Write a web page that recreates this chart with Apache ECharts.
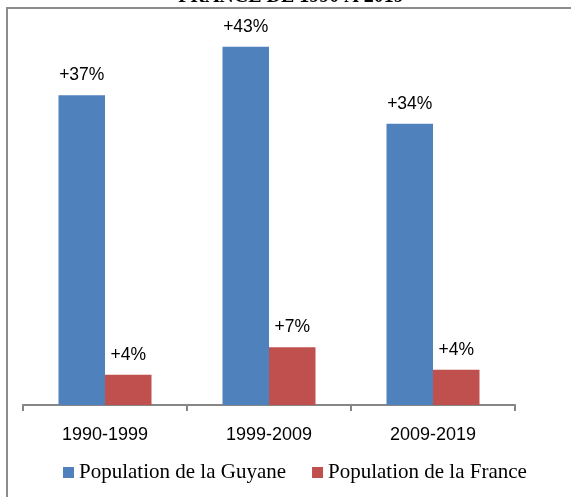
<!DOCTYPE html>
<html>
<head>
<meta charset="utf-8">
<script src="https://cdn.jsdelivr.net/npm/echarts@6/dist/echarts.min.js"></script>
<style>html,body{margin:0;padding:0;background:#fff;}#c{width:571px;height:497px;}</style>
</head>
<body>
<div id="c"></div>
<script>
var categories = ['1990-1999', '1999-2009', '2009-2019'];
var guyane = [37, 42.8, 33.6];
var france = [3.6, 6.9, 4.2];
var guyaneLabels = ['+37%', '+43%', '+34%'];
var franceLabels = ['+4%', '+7%', '+4%'];
var seriesNames = ['Population de la Guyane', 'Population de la France'];
var titleText = 'FRANCE DE 1990 A 2019';

var chart = echarts.init(document.getElementById('c'));
function lbl(arr) {
  return {
    show: true, position: 'top', distance: 11,
    fontFamily: 'Liberation Sans, Arial, sans-serif', fontSize: 17.5, color: '#000',
    formatter: function (p) { return arr[p.dataIndex]; }
  };
}
chart.setOption({
  animation: false,
  backgroundColor: '#fff',
  grid: { left: 23, right: 56, top: 28.3, bottom: 92 },
  graphic: [
    { type: 'polyline', shape: { points: [[7, 497], [7, 8], [571, 8]] },
      style: { stroke: '#8c8c8c', lineWidth: 2, fill: null } },
    { type: 'text', x: 291, y: 7,
      style: { text: titleText, align: 'center', verticalAlign: 'bottom',
        font: 'bold 20px "Liberation Serif", "Times New Roman", serif', fill: '#000' } }
  ],
  legend: {
    bottom: 9, left: 58,
    icon: 'rect', itemWidth: 11, itemHeight: 11, itemGap: 26, itemTextGap: 6,
    textStyle: { fontFamily: 'Liberation Serif, Times New Roman, serif', fontSize: 21, color: '#000' },
    data: seriesNames
  },
  xAxis: {
    type: 'category', data: categories,
    axisLine: { lineStyle: { color: '#868686', width: 2 } },
    axisTick: { show: true, length: 6, lineStyle: { color: '#868686', width: 2 } },
    axisLabel: { margin: 21, fontFamily: 'Liberation Sans, Arial, sans-serif', fontSize: 18, color: '#000' }
  },
  yAxis: { type: 'value', min: 0, max: 45, show: false, splitLine: { show: false } },
  series: [
    { name: seriesNames[0], type: 'bar', data: guyane, barWidth: 46.5, barGap: '0%',
      itemStyle: { color: '#4F81BD' }, label: lbl(guyaneLabels) },
    { name: seriesNames[1], type: 'bar', data: france, barWidth: 46.5,
      itemStyle: { color: '#C0504D' }, label: lbl(franceLabels) }
  ]
});
</script>
</body>
</html>
